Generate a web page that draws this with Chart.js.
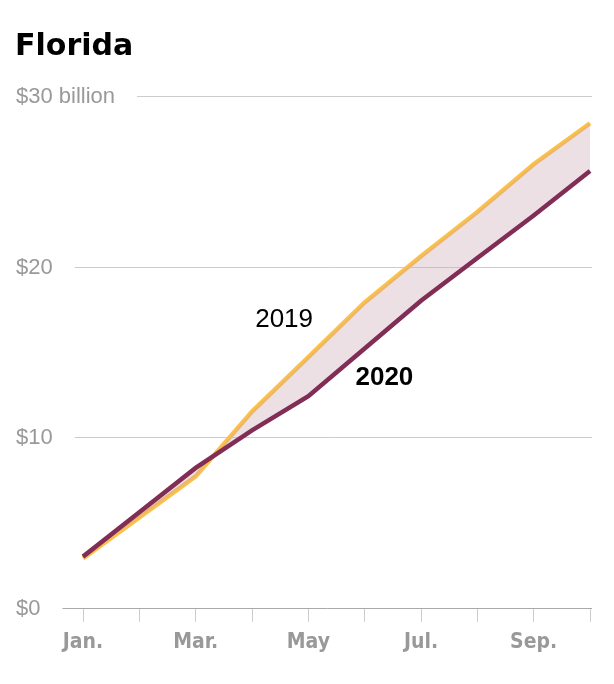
<!DOCTYPE html>
<html>
<head>
<meta charset="utf-8">
<script src="https://cdn.jsdelivr.net/npm/chart.js@4"></script>
<style>
  body { margin: 0; background: #fff; }
</style>
</head>
<body>
<canvas id="myChart" width="614" height="684"></canvas>
<script>
//* DATA *//
let months = ['Jan.', 'Feb.', 'Mar.', 'Apr.', 'May', 'Jun.', 'Jul.', 'Aug.', 'Sep.', 'Oct.'];
let sales2019 = [2.9, 5.3, 7.7, 11.5, 14.7, 17.9, 20.6, 23.2, 26.0, 28.4];
let sales2020 = [3.0, 5.6, 8.2, 10.4, 12.4, 15.2, 18.0, 20.5, 23.0, 25.6];
let yTicks = [0, 10, 20, 30];
let yTickLabels = ['$0', '$10', '$20', '$30 billion'];

let ctx = document.getElementById('myChart');

//* CUSTOM DRAWING: title, y labels, gridlines, line labels *//
let decor = {
  id: 'decor',
  beforeDatasetsDraw(chart) {
    let c = chart.ctx;
    let y = chart.scales.y;
    let area = chart.chartArea;
    c.save();
    // title
    c.fillStyle = '#000';
    c.font = 'bold 30px "DejaVu Sans"';
    c.textBaseline = 'alphabetic';
    c.textAlign = 'left';
    c.fillText('Florida', 15, 55);
    // y labels + gridlines
    c.font = '22px "Liberation Sans"';
    c.textBaseline = 'middle';
    for (let i = 0; i < yTicks.length; i++) {
      let py = Math.round(y.getPixelForValue(yTicks[i])) + 0.5;
      c.fillStyle = '#999';
      c.fillText(yTickLabels[i], 16, py);
      let start = Math.max(62, 16 + c.measureText(yTickLabels[i]).width + 22);
      c.strokeStyle = yTicks[i] === 0 ? '#aaa' : '#ccc';
      c.lineWidth = 1;
      c.beginPath();
      c.moveTo(start, py);
      c.lineTo(area.right + 2, py);
      c.stroke();
    }
    c.restore();
  },
  afterDatasetsDraw(chart) {
    let c = chart.ctx;
    let x = chart.scales.x;
    let y = chart.scales.y;
    c.save();
    c.fillStyle = '#000';
    c.textAlign = 'center';
    c.textBaseline = 'middle';
    c.font = '26px "Liberation Sans"';
    c.fillText('2019', x.getPixelForValue(3.57), y.getPixelForValue(16.9));
    c.font = 'bold 26px "Liberation Sans"';
    c.fillText('2020', x.getPixelForValue(5.35), y.getPixelForValue(13.5));
    c.restore();
  }
};

let chartObj = {
  type: 'line',
  data: {
    labels: months,
    datasets: [
      {
        label: '2020',
        data: sales2020,
        borderColor: '#812d55',
        borderWidth: 4.5,
        pointRadius: 0,
        tension: 0,
        fill: { target: 1 },
        backgroundColor: 'rgba(200, 165, 180, 0.35)'
      },
      {
        label: '2019',
        data: sales2019,
        borderColor: '#fcc146',
        borderWidth: 4.5,
        pointRadius: 0,
        tension: 0,
        fill: false
      }
    ]
  },
  options: {
    responsive: false,
    animation: false,
    layout: {
      padding: { left: 83, right: 24, top: 96, bottom: 21 }
    },
    plugins: {
      legend: { display: false },
      tooltip: { enabled: false }
    },
    scales: {
      x: {
        offset: false,
        border: { display: false },
        grid: {
          drawOnChartArea: false,
          drawTicks: true,
          tickLength: 14,
          color: '#ccc'
        },
        ticks: {
          autoSkip: false,
          maxRotation: 0,
          padding: 8,
          color: '#999',
          font: { family: '"DejaVu Sans Condensed", "DejaVu Sans"', size: 21, weight: 'bold' },
          callback: function (v, i) {
            return i % 2 === 0 ? months[i] : '';
          }
        }
      },
      y: {
        display: false,
        min: 0,
        max: 30
      }
    }
  },
  plugins: [decor]
};

new Chart(ctx, chartObj);
</script>
</body>
</html>
